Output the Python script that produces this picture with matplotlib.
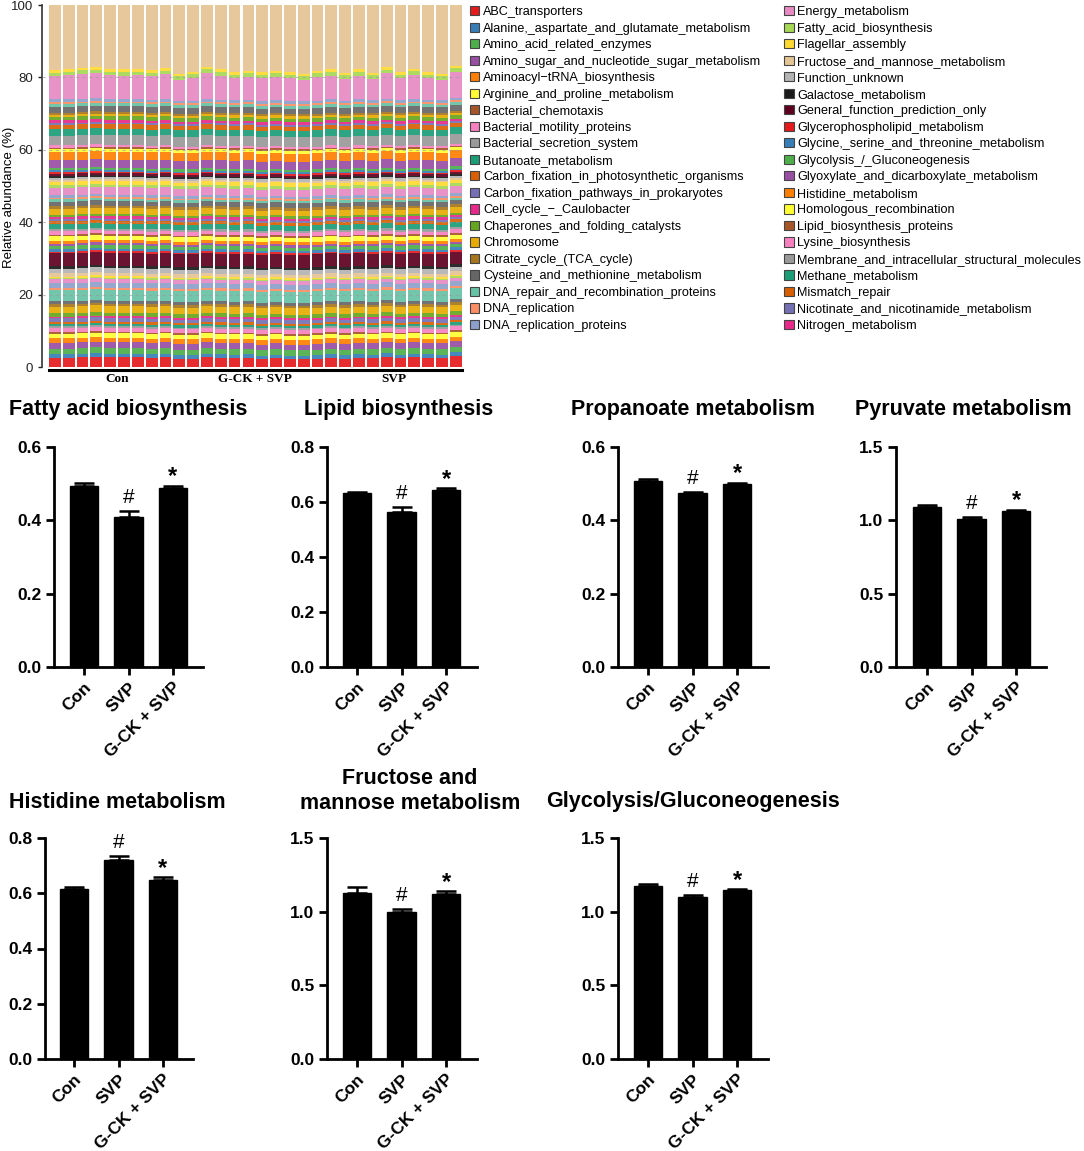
import numpy as np
import matplotlib.pyplot as plt
from matplotlib.patches import Patch
from matplotlib.transforms import blended_transform_factory

plt.rcParams['font.family'] = ['Liberation Sans', 'DejaVu Sans']

# ---------------- stacked bar data ----------------
samples_per_group = 10
stack_groups = ['Con', 'G-CK + SVP', 'SVP']

pathway_names = [
    'ABC_transporters', 'Alanine,_aspartate_and_glutamate_metabolism', 'Amino_acid_related_enzymes',
    'Amino_sugar_and_nucleotide_sugar_metabolism', 'Aminoacyl\u2212tRNA_biosynthesis',
    'Arginine_and_proline_metabolism', 'Bacterial_chemotaxis', 'Bacterial_motility_proteins',
    'Bacterial_secretion_system', 'Butanoate_metabolism', 'Carbon_fixation_in_photosynthetic_organisms',
    'Carbon_fixation_pathways_in_prokaryotes', 'Cell_cycle_\u2212_Caulobacter',
    'Chaperones_and_folding_catalysts', 'Chromosome', 'Citrate_cycle_(TCA_cycle)',
    'Cysteine_and_methionine_metabolism', 'DNA_repair_and_recombination_proteins', 'DNA_replication',
    'DNA_replication_proteins', 'Energy_metabolism', 'Fatty_acid_biosynthesis', 'Flagellar_assembly',
    'Fructose_and_mannose_metabolism', 'Function_unknown', 'Galactose_metabolism',
    'General_function_prediction_only', 'Glycerophospholipid_metabolism',
    'Glycine,_serine_and_threonine_metabolism', 'Glycolysis_/_Gluconeogenesis',
    'Glyoxylate_and_dicarboxylate_metabolism', 'Histidine_metabolism', 'Homologous_recombination',
    'Lipid_biosynthesis_proteins', 'Lysine_biosynthesis', 'Membrane_and_intracellular_structural_molecules',
    'Methane_metabolism', 'Mismatch_repair', 'Nicotinate_and_nicotinamide_metabolism', 'Nitrogen_metabolism',
]

# 27 colour palette, cycled over the stack
palette = ['#E41A1C', '#377EB8', '#4DAF4A', '#984EA3', '#FF7F00', '#FFFF33', '#A65628', '#F781BF',
           '#999999', '#1B9E77', '#D95F02', '#7570B3', '#E7298A', '#66A61E', '#E6AB02', '#A6761D',
           '#666666', '#66C2A5', '#FC8D62', '#8DA0CB', '#E78AC3', '#A6D854', '#FFD92F', '#E5C494',
           '#B3B3B3', '#1A1A1A', '#5E0020']

# mean layer heights (%), bottom to top (78 layers); layer 0, 74 and 77 are set per bar
layer_pct = [2.7, 1.0, 1.5, 1.6, 1.2, 1.3, 0.4, 1.1, 0.5, 0.6,
             0.6, 1.0, 0.5, 1.0, 1.8, 0.7, 0.8, 3.0, 0.6, 1.4,
             1.0, 0.4, 0.4, 0.9, 1.3, 0.7, 3.5, 0.5, 0.7, 0.9,
             0.6, 0.8, 1.2, 0.5, 0.9, 0.6, 1.4, 0.8, 0.6, 0.6,
             0.6, 1.6, 0.8, 1.2, 0.6, 0.5, 0.7, 2.0, 0.8, 0.9,
             0.5, 0.6, 0.5, 0.6, 0.4, 0.5, 0.6, 2.3, 2.2, 0.8,
             0.4, 0.6, 2.7, 1.8, 1.2, 0.5, 0.7, 1.0, 0.6, 0.6,
             1.6, 0.8, 0.5, 0.7, 6.3, 1.0, 0.7, 18.0]

# per-sample bottom layer (ABC_transporters) and top of the coloured part
abc_pct = [2.6, 2.6, 2.7, 2.9, 2.7, 2.7, 2.7, 2.5, 2.7, 2.3,
           2.3, 2.7, 2.5, 2.4, 2.5, 2.1, 2.4, 2.1, 2.1, 2.3,
           2.6, 2.3, 2.6, 2.4, 2.8, 2.4, 2.7, 2.5, 2.4, 3.1]
coloured_top = [82.0, 82.3, 82.7, 82.8, 82.3, 82.2, 82.3, 82.0, 82.6, 81.0,
                81.6, 83.0, 82.2, 81.5, 81.8, 81.5, 81.8, 81.5, 81.0, 81.8,
                82.2, 81.3, 82.2, 81.3, 82.8, 81.5, 82.4, 81.5, 81.0, 83.2]

# ---------------- small bar panels ----------------
groups = ['Con', 'SVP', 'G-CK + SVP']
fatty_mean = [0.495, 0.408, 0.488]
fatty_err = [0.008, 0.018, 0.007]
lipid_mean = [0.632, 0.565, 0.645]
lipid_err = [0.006, 0.018, 0.005]
propanoate_mean = [0.506, 0.474, 0.498]
propanoate_err = [0.006, 0.004, 0.005]
pyruvate_mean = [1.090, 1.010, 1.063]
pyruvate_err = [0.015, 0.015, 0.010]
histidine_mean = [0.617, 0.720, 0.648]
histidine_err = [0.005, 0.015, 0.010]
fructose_mean = [1.125, 0.995, 1.120]
fructose_err = [0.040, 0.025, 0.020]
glycolysis_mean = [1.175, 1.100, 1.145]
glycolysis_err = [0.015, 0.010, 0.010]
sig_marks = ['', '#', '*']

W, H = 1084, 1151
fig = plt.figure(figsize=(W / 100, H / 100), dpi=100)


def px_axes(l, t, r, b):
    return fig.add_axes([l / W, 1 - b / H, (r - l) / W, (b - t) / H])


# ---------------- stacked chart ----------------
ax = px_axes(42, 5, 462, 367)
n_bars = len(abc_pct)
x = np.arange(n_bars)
for i in range(n_bars):
    h = list(layer_pct)
    h[0] = abc_pct[i]
    below = sum(h[:74]) + h[75] + h[76]
    h[74] = coloured_top[i] - below
    h[77] = 100 - coloured_top[i]
    bottom = 0
    for k in range(len(h)):
        ax.bar(x[i], h[k], bottom=bottom, width=0.85, color=palette[k % len(palette)],
               edgecolor='none', alpha=0.92)
        bottom += h[k]
for yv in [20, 40, 60, 80]:
    ax.axhline(yv, color='#9a9a9a', lw=0.8, ls=(0, (3, 3)), alpha=0.6, zorder=5)
ax.set_xlim(-0.93, 29.45)
ax.set_ylim(0, 100)
ax.set_yticks([0, 20, 40, 60, 80, 100])
ax.tick_params(axis='y', labelsize=9.5, length=3, width=1, colors='#222222')
ax.set_xticks([])
for s in ['top', 'right', 'bottom']:
    ax.spines[s].set_visible(False)
ax.spines['left'].set_linewidth(1.2)
ax.spines['left'].set_color('#333333')
fig.text(9 / W, 1 - 197 / H, 'Relative abundance (%)', rotation=90, ha='center', va='center',
         fontsize=9.5)

# group brackets under the bars
tr = blended_transform_factory(ax.transData, ax.transAxes)
for g, name in enumerate(stack_groups):
    x0 = g * samples_per_group - 0.425
    x1 = (g + 1) * samples_per_group - 1 + 0.425
    ax.plot([x0, x1], [-0.009, -0.009], color='black', lw=2.2, transform=tr, clip_on=False)
    ax.text((x0 + x1) / 2, -0.016, name, transform=tr, ha='center', va='top', fontsize=9.5,
            fontweight='bold', family=['Liberation Serif', 'DejaVu Serif'])

# legend, two columns
handles = [Patch(facecolor=palette[k % len(palette)], edgecolor='#444444', linewidth=0.8)
           for k in range(len(pathway_names))]
fig.legend(handles, pathway_names, ncol=2, loc='upper left', bbox_to_anchor=(470 / W, 1 - 6 / H),
           frameon=False, fontsize=9.1, handlelength=0.75, handleheight=0.75, handletextpad=0.3,
           labelspacing=0.355, columnspacing=1.8, borderaxespad=0, borderpad=0)

# ---------------- small bar panels ----------------
panels = [
    ('Fatty acid biosynthesis', fatty_mean, fatty_err, 0.6, 0.2, (54, 84, 203), 1, 128, 410),
    ('Lipid biosynthesis', lipid_mean, lipid_err, 0.8, 0.2, (327, 357, 477), 1, 399, 410),
    ('Propanoate metabolism', propanoate_mean, propanoate_err, 0.6, 0.2, (618, 648, 768), 1, 693, 410),
    ('Pyruvate metabolism', pyruvate_mean, pyruvate_err, 1.5, 0.5, (896, 927, 1046), 1, 963, 410),
    ('Histidine metabolism', histidine_mean, histidine_err, 0.8, 0.2, (45, 74, 193), 2, 117, 802),
    ('Fructose and\nmannose metabolism', fructose_mean, fructose_err, 1.5, 0.5, (327, 357, 477), 2, 410, 791),
    ('Glycolysis/Gluconeogenesis', glycolysis_mean, glycolysis_err, 1.5, 0.5, (618, 648, 768), 2, 693, 802),
]
row_px = {1: (447, 667), 2: (838, 1059)}
spacing = 44.5

for title, mean, err, ymax, step, (axl, c0, axr), row, tx, ty in panels:
    top, bot = row_px[row]
    a = px_axes(axl, top, axr, bot)
    xs = np.arange(len(groups))
    a.bar(xs, mean, width=0.65, color='black', edgecolor='black')
    a.errorbar(xs, mean, yerr=[[0] * 3, err], fmt='none', ecolor='black', elinewidth=1.8,
               capsize=7, capthick=1.8)
    for j in range(len(groups)):
        if sig_marks[j] == '#':
            a.annotate('#', (xs[j], mean[j] + err[j]), xytext=(0, 3), textcoords='offset points',
                       ha='center', va='bottom', fontsize=15)
        elif sig_marks[j] == '*':
            a.annotate('*', (xs[j], mean[j] + err[j]), xytext=(0, -2), textcoords='offset points',
                       ha='center', va='bottom', fontsize=17, fontweight='bold')
    a.set_xlim((axl - c0) / spacing, (axr - c0) / spacing)
    a.set_ylim(0, ymax)
    a.set_yticks(np.arange(0, ymax + step / 2, step))
    a.yaxis.set_major_formatter(plt.FormatStrFormatter('%.1f'))
    a.set_xticks(xs)
    a.set_xticklabels(groups, rotation=45, ha='right', rotation_mode='anchor')
    for s in ['top', 'right']:
        a.spines[s].set_visible(False)
    for s in ['left', 'bottom']:
        a.spines[s].set_linewidth(2)
    a.tick_params(direction='out', length=6, width=2, labelsize=12.5, pad=3)
    for lab in a.get_xticklabels() + a.get_yticklabels():
        lab.set_fontweight('bold')
    fig.text(tx / W, 1 - ty / H, title, ha='center', va='center', fontsize=15.5,
             fontweight='bold', linespacing=1.2)

fig.savefig('out.png', dpi=100)
